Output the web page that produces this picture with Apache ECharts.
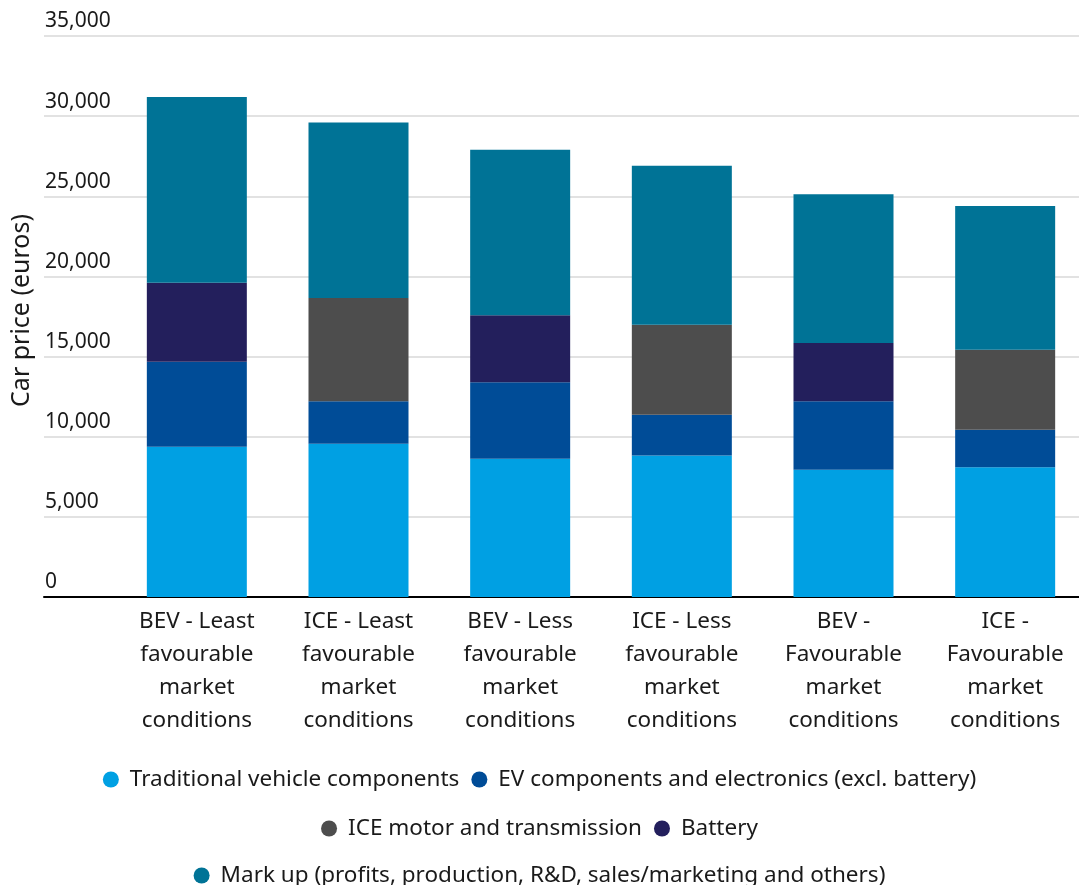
<!DOCTYPE html>
<html>
<head>
<meta charset="utf-8">
<script src="https://cdn.jsdelivr.net/npm/echarts@6/dist/echarts.min.js"></script>
<style>
  html, body { margin: 0; padding: 0; background: #fff; }
  #main { width: 1079px; height: 885px; }
</style>
</head>
<body>
<div id="main"></div>
<script>
// categories
const categories = [
  "BEV - Least\nfavourable\nmarket\nconditions",
  "ICE - Least\nfavourable\nmarket\nconditions",
  "BEV - Less\nfavourable\nmarket\nconditions",
  "ICE - Less\nfavourable\nmarket\nconditions",
  "BEV -\nFavourable\nmarket\nconditions",
  "ICE -\nFavourable\nmarket\nconditions"
];

// values (euros)
const traditional = [9370, 9560, 8620, 8830, 7940, 8100];
const evParts = [5300, 2660, 4780, 2540, 4280, 2330];
const iceMotor = [0, 6440, 0, 5610, 0, 4990];
const battery = [4940, 0, 4180, 0, 3630, 0];
const markUp = [11590, 10950, 10320, 9930, 9270, 8980];

const yTicks = { min: 0, max: 35000, interval: 5000 };

const FONT = "Noto Sans";
const TEXT = "#1a1a1a";

// legend rows like the original
const legendRows = [
  ["Traditional vehicle components", "EV components and electronics (excl. battery)"],
  ["ICE motor and transmission", "Battery"],
  ["Mark up (profits, production, R&D, sales/marketing and others)"]
];
const legendTops = [763, 812, 859];

const seriesDefs = [
  { name: legendRows[0][0], data: traditional, color: "#00a0e3" },
  { name: legendRows[0][1], data: evParts, color: "#004c97" },
  { name: legendRows[1][0], data: iceMotor, color: "#4d4d4d" },
  { name: legendRows[1][1], data: battery, color: "#231f5c" },
  { name: legendRows[2][0], data: markUp, color: "#007396" }
];

const chart = echarts.init(document.getElementById("main"));

const option = {
  animation: false,
  textStyle: { fontFamily: FONT },
  grid: [
    // background grid: gridlines, y labels, baseline
    { left: 44, right: 0, top: 36, bottom: 288, outerBoundsMode: "none" },
    // bars
    { left: 116, width: 970, top: 36, bottom: 288, outerBoundsMode: "none" }
  ],
  legend: legendRows.map((row, i) => ({
    data: row,
    top: legendTops[i],
    left: "center",
    icon: "circle",
    itemWidth: 16,
    itemHeight: 16,
    itemGap: 12,
    selectedMode: false,
    textStyle: { fontFamily: FONT, fontSize: 22.5, color: TEXT, padding: [0, 0, 0, 6] }
  })),
  xAxis: [
    {
      gridIndex: 0,
      type: "value",
      min: 0,
      max: 1,
      axisLine: { show: true, lineStyle: { color: "#000", width: 2 } },
      axisTick: { show: false },
      axisLabel: { show: false },
      splitLine: { show: false }
    },
    {
      gridIndex: 1,
      type: "category",
      data: categories,
      axisLine: { show: false },
      axisTick: { show: false },
      axisLabel: {
        interval: 0,
        margin: 8,
        fontFamily: FONT,
        fontSize: 22.5,
        lineHeight: 33,
        color: TEXT,
        align: "center"
      }
    }
  ],
  yAxis: [
    {
      gridIndex: 0,
      type: "value",
      ...yTicks,
      name: "Car price (euros)",
      nameLocation: "middle",
      nameRotate: 90,
      nameGap: 8,
      nameTextStyle: { fontFamily: FONT, fontSize: 25, color: TEXT, padding: [0, 0, 0, 12] },
      axisLine: { show: false },
      axisTick: { show: false },
      axisLabel: {
        inside: true,
        margin: 1,
        verticalAlign: "bottom",
        padding: [0, 0, 4, 0],
        fontFamily: FONT,
        fontSize: 21,
        color: TEXT,
        formatter: (v) => v.toLocaleString("en-US")
      },
      splitLine: { lineStyle: { color: "#d9d9d9", width: 1.5 } }
    },
    {
      gridIndex: 1,
      type: "value",
      ...yTicks,
      show: false,
      splitLine: { show: false }
    }
  ],
  series: seriesDefs.map((s) => ({
    name: s.name,
    type: "bar",
    stack: "price",
    xAxisIndex: 1,
    yAxisIndex: 1,
    barWidth: 100,
    data: s.data,
    itemStyle: { color: s.color },
    emphasis: { disabled: true }
  }))
};

chart.setOption(option);
</script>
</body>
</html>
